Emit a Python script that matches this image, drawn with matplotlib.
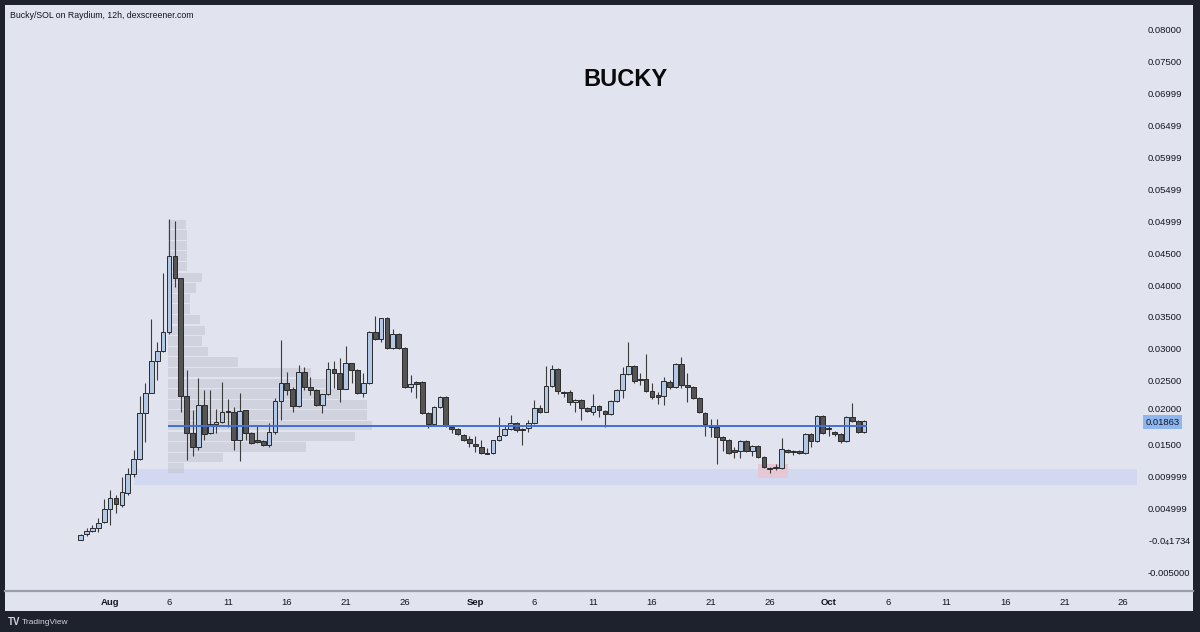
import pandas as pd
import matplotlib.pyplot as plt
import matplotlib.dates as mdates
import matplotlib.transforms as mtransforms
from matplotlib.patches import Rectangle
from matplotlib.lines import Line2D

# Candle data (12h candles, Bucky/SOL)
start_time = '2024-07-29 12:00'
opens = [0.00010, 0.00097, 0.00144, 0.00191, 0.00285, 0.00489, 0.00661, 0.00552, 0.00740, 0.01037,
         0.01273, 0.01994, 0.02308, 0.02810, 0.02966, 0.03264, 0.04456, 0.04111, 0.02261, 0.01681,
         0.01461, 0.02119, 0.01681, 0.01822, 0.01853, 0.02026, 0.02010, 0.01571, 0.02041, 0.01681,
         0.01571, 0.01555, 0.01492, 0.01696, 0.02182, 0.02465, 0.02371, 0.02104, 0.02637, 0.02402,
         0.02355, 0.02119, 0.02292, 0.02684, 0.02621, 0.02371, 0.02778, 0.02668, 0.02308, 0.02465,
         0.03264, 0.03154, 0.03484, 0.03013, 0.03233, 0.03013, 0.02402, 0.02480, 0.02480, 0.01994,
         0.01822, 0.02088, 0.02245, 0.01775, 0.01743, 0.01649, 0.01586, 0.01508, 0.01461, 0.01367,
         0.01367, 0.01571, 0.01649, 0.01743, 0.01837, 0.01743, 0.01759, 0.01837, 0.02073, 0.02010,
         0.02418, 0.02684, 0.02324, 0.02324, 0.02167, 0.02198, 0.02073, 0.02010, 0.02104, 0.02026,
         0.01978, 0.02182, 0.02355, 0.02606, 0.02731, 0.02527, 0.02527, 0.02339, 0.02276, 0.02261,
         0.02480, 0.02402, 0.02762, 0.02433, 0.02402, 0.02229, 0.01994, 0.01775, 0.01775, 0.01618,
         0.01571, 0.01414, 0.01398, 0.01555, 0.01398, 0.01477, 0.01304, 0.01132, 0.01132, 0.01132,
         0.01414, 0.01398, 0.01398, 0.01367, 0.01665, 0.01555, 0.01947, 0.01759, 0.01696, 0.01665,
         0.01555, 0.01931, 0.01869, 0.01696]
highs = [0.00090, 0.00191, 0.00238, 0.00348, 0.00646, 0.00787, 0.00708, 0.00991, 0.01132, 0.01414,
         0.02261, 0.02465, 0.03468, 0.03107, 0.04189, 0.05036, 0.05005, 0.04111, 0.02668, 0.02041,
         0.02539, 0.02355, 0.02355, 0.02057, 0.02480, 0.02214, 0.02088, 0.02308, 0.02041, 0.01696,
         0.01790, 0.01571, 0.01837, 0.02229, 0.03139, 0.02637, 0.02402, 0.02747, 0.02715, 0.02559,
         0.02371, 0.02292, 0.02794, 0.02810, 0.02857, 0.03045, 0.02778, 0.02684, 0.02621, 0.03280,
         0.03515, 0.03484, 0.03499, 0.03311, 0.03249, 0.03029, 0.02590, 0.02496, 0.02496, 0.02010,
         0.02104, 0.02261, 0.02261, 0.01790, 0.01759, 0.01665, 0.01634, 0.01634, 0.01571, 0.01445,
         0.01571, 0.01931, 0.01806, 0.01963, 0.01853, 0.01759, 0.01884, 0.02198, 0.02119, 0.02731,
         0.02747, 0.02700, 0.02339, 0.02355, 0.02214, 0.02214, 0.02088, 0.02292, 0.02119, 0.02041,
         0.02198, 0.02371, 0.02715, 0.03107, 0.02747, 0.02621, 0.02919, 0.02465, 0.02324, 0.02559,
         0.02512, 0.02778, 0.02872, 0.02621, 0.02418, 0.02245, 0.02010, 0.01900, 0.01900, 0.01634,
         0.01586, 0.01461, 0.01571, 0.01571, 0.01492, 0.01492, 0.01320, 0.01147, 0.01195, 0.01602,
         0.01430, 0.01414, 0.01414, 0.01681, 0.01681, 0.01963, 0.01963, 0.01806, 0.01712, 0.01681,
         0.01947, 0.02151, 0.01884, 0.01884]
lows = [0.00003, 0.00066, 0.00128, 0.00128, 0.00270, 0.00238, 0.00426, 0.00520, 0.00708, 0.00991,
        0.01257, 0.01539, 0.02308, 0.02512, 0.02951, 0.03233, 0.03970, 0.02010, 0.01257, 0.01320,
        0.01414, 0.01571, 0.01665, 0.01681, 0.01837, 0.01775, 0.01414, 0.01242, 0.01571, 0.01508,
        0.01524, 0.01477, 0.01461, 0.01665, 0.01884, 0.02276, 0.02010, 0.02088, 0.02355, 0.02276,
        0.02104, 0.01994, 0.02276, 0.02386, 0.02167, 0.02371, 0.02465, 0.02292, 0.02245, 0.02449,
        0.03139, 0.03107, 0.02998, 0.02998, 0.02998, 0.02386, 0.02324, 0.02229, 0.01978, 0.01759,
        0.01806, 0.02073, 0.01775, 0.01681, 0.01649, 0.01555, 0.01461, 0.01383, 0.01351, 0.01351,
        0.01351, 0.01555, 0.01634, 0.01728, 0.01696, 0.01492, 0.01696, 0.01822, 0.01994, 0.02010,
        0.02402, 0.02292, 0.02245, 0.02119, 0.02010, 0.01884, 0.02010, 0.01963, 0.01931, 0.01775,
        0.01963, 0.02167, 0.02229, 0.02590, 0.02465, 0.02433, 0.02324, 0.02214, 0.02135, 0.02119,
        0.02371, 0.02386, 0.02386, 0.02167, 0.02214, 0.01994, 0.01634, 0.01618, 0.01195, 0.01398,
        0.01351, 0.01289, 0.01289, 0.01383, 0.01320, 0.01289, 0.01132, 0.01053, 0.01100, 0.01116,
        0.01367, 0.01336, 0.01351, 0.01351, 0.01461, 0.01539, 0.01665, 0.01634, 0.01634, 0.01524,
        0.01539, 0.01853, 0.01681, 0.01681]
closes = [0.00081, 0.00144, 0.00191, 0.00270, 0.00489, 0.00661, 0.00567, 0.00756, 0.01037, 0.01273,
          0.01994, 0.02308, 0.02810, 0.02966, 0.03264, 0.04456, 0.04111, 0.02261, 0.01681, 0.01461,
          0.02119, 0.01665, 0.01822, 0.01853, 0.02010, 0.02010, 0.01571, 0.02026, 0.01681, 0.01524,
          0.01539, 0.01492, 0.01696, 0.02182, 0.02465, 0.02355, 0.02104, 0.02637, 0.02402, 0.02355,
          0.02119, 0.02292, 0.02684, 0.02621, 0.02371, 0.02778, 0.02668, 0.02308, 0.02465, 0.03264,
          0.03154, 0.03484, 0.03013, 0.03233, 0.03013, 0.02402, 0.02449, 0.02449, 0.01994, 0.01822,
          0.02088, 0.02245, 0.01790, 0.01743, 0.01665, 0.01571, 0.01524, 0.01477, 0.01367, 0.01351,
          0.01571, 0.01634, 0.01743, 0.01837, 0.01728, 0.01728, 0.01837, 0.02073, 0.02010, 0.02418,
          0.02684, 0.02339, 0.02308, 0.02167, 0.02198, 0.02073, 0.02026, 0.02104, 0.02041, 0.01978,
          0.02182, 0.02355, 0.02606, 0.02731, 0.02496, 0.02512, 0.02339, 0.02245, 0.02245, 0.02496,
          0.02402, 0.02762, 0.02433, 0.02402, 0.02229, 0.02010, 0.01822, 0.01806, 0.01618, 0.01571,
          0.01367, 0.01383, 0.01555, 0.01398, 0.01477, 0.01304, 0.01147, 0.01116, 0.01147, 0.01430,
          0.01383, 0.01383, 0.01367, 0.01665, 0.01555, 0.01947, 0.01681, 0.01743, 0.01665, 0.01555,
          0.01931, 0.01869, 0.01696, 0.01869]

# Volume profile rows (bottom price of each row, relative volume)
vp_bottoms = [0.01047, 0.01213, 0.01380, 0.01546, 0.01712, 0.01878, 0.02044, 0.02211,
              0.02377, 0.02543, 0.02709, 0.02875, 0.03042, 0.03208, 0.03374, 0.03540,
              0.03707, 0.03873, 0.04039, 0.04205, 0.04371, 0.04537, 0.04704, 0.04870]
vp_volume = [16, 55, 138, 187, 204, 199, 199, 171, 160, 143, 70, 40,
             34, 37, 32, 22, 22, 28, 34, 19, 19, 19, 19, 18]
vp_start = '2024-08-05 22:00'

# Levels and zones
level_price = 0.0179
level_start, level_end = '2024-08-05 22:00', '2024-10-04 05:00'
zone_low, zone_high = 0.00865, 0.01116
zone_start = '2024-08-03 01:00'
box_low, box_high = 0.00975, 0.01190
box_start, box_end = '2024-09-25 00:00', '2024-09-27 12:00'
last_price = 0.01863

y_ticks = [0.08, 0.075, 0.07, 0.065, 0.06, 0.055, 0.05, 0.045, 0.04, 0.035, 0.03,
           0.025, 0.02, 0.015, 0.01, 0.005, 0.0, -0.005]
y_labels = ['0.08000', '0.07500', '0.06999', '0.06499', '0.05999', '0.05499', '0.04999',
            '0.04500', '0.04000', '0.03500', '0.03000', '0.02500', '0.02000', '0.01500',
            '0.009999', '0.004999', r'-0.0$_{4}$1734', '-0.005000']
x_tick_dates = ['2024-08-01', '2024-08-06', '2024-08-11', '2024-08-16', '2024-08-21', '2024-08-26',
                '2024-09-01', '2024-09-06', '2024-09-11', '2024-09-16', '2024-09-21', '2024-09-26',
                '2024-10-01', '2024-10-06', '2024-10-11', '2024-10-16', '2024-10-21', '2024-10-26']
x_tick_labels = ['Aug', '6', '11', '16', '21', '26', 'Sep', '6', '11', '16', '21', '26',
                 'Oct', '6', '11', '16', '21', '26']

BG = '#e1e3ee'
DARK = '#1e222d'
plt.rcParams['font.family'] = ['Liberation Sans', 'DejaVu Sans']

times = mdates.date2num(pd.date_range(start_time, periods=len(opens), freq='12h'))
d = lambda s: mdates.date2num(pd.Timestamp(s))

fig = plt.figure(figsize=(12, 6.32), dpi=100, facecolor=DARK)
fig.patches.append(Rectangle((5 / 1200, 1 - 611 / 632), 1188 / 1200, 606 / 632,
                             transform=fig.transFigure, facecolor=BG, edgecolor='none', zorder=-5))
# time axis separator across the full width
fig.lines.append(Line2D([5 / 1200, 1193 / 1200], [1 - 591 / 632, 1 - 591 / 632],
                        transform=fig.transFigure, color='#9a9dab', lw=1.6, zorder=10))

ax = fig.add_axes([8 / 1200, 1 - 591 / 632, 1129 / 1200, 584 / 632])
ax.set_facecolor(BG)
ax.set_xlim(d('2024-07-23 08:00'), d('2024-10-27 04:00'))
ax.set_ylim(-0.00797, 0.0836)

# zone and highlight box
ax.add_patch(Rectangle((d(zone_start), zone_low), ax.get_xlim()[1] - d(zone_start), zone_high - zone_low,
                       facecolor='#d1d8f0', edgecolor='none', zorder=1))
ax.add_patch(Rectangle((d(box_start), box_low), d(box_end) - d(box_start), box_high - box_low,
                       facecolor='#e6c8d5', edgecolor='none', zorder=1.5))

# volume profile
row_h = vp_bottoms[1] - vp_bottoms[0]
ax.barh([b + row_h / 2 for b in vp_bottoms], [v / 11.78 for v in vp_volume], height=row_h * 0.9,
        left=d(vp_start), color='#b8bac6', alpha=0.4, zorder=2)

# candles
up = [c >= o for o, c in zip(opens, closes)]
ax.vlines(times, lows, highs, color='#3c3c3c', lw=0.8, zorder=3)
ax.bar(times, [max(abs(c - o), 0.00006) for o, c in zip(opens, closes)],
       bottom=[min(o, c) for o, c in zip(opens, closes)], width=0.40,
       color=['#b3c7e6' if u else '#555555' for u in up], edgecolor='#2a2a2a', lw=0.7, zorder=4)

# horizontal level
ax.hlines(level_price, d(level_start), d(level_end), color='#3f6fd9', lw=1.4, zorder=5)

# axes styling
for s in ['top', 'left', 'right', 'bottom']:
    ax.spines[s].set_visible(False)
ax.set_yticks([])
trans = mtransforms.blended_transform_factory(ax.transAxes, ax.transData)
for tick, lbl in zip(y_ticks, y_labels):
    off = mtransforms.ScaledTranslation(0, 3 / 72 if tick == 0.02 else 0, fig.dpi_scale_trans)
    ax.text(1.0095, tick, lbl, transform=trans + off, fontsize=6.8, color='#131722',
            va='center_baseline')
ax.set_xticks([d(t) for t in x_tick_dates])
ax.set_xticklabels(x_tick_labels)
ax.tick_params(axis='x', length=0, pad=5, labelsize=6.8, labelcolor='#131722')
for lbl, txt in zip(ax.get_xticklabels(), x_tick_labels):
    if txt in ('Aug', 'Sep', 'Oct'):
        lbl.set_fontweight('bold')

# last price label
ax.text(1.0075, last_price, '0.01863', transform=trans, fontsize=6.8, color='#131722',
        va='center_baseline',
        bbox=dict(boxstyle='square,pad=0.25', facecolor='#8fb5ee', edgecolor='none'), zorder=6)

# texts
fig.text(10 / 1200, 1 - 16 / 632, 'Bucky/SOL on Raydium, 12h, dexscreener.com', fontsize=6.3,
         color='#131722', va='center')
fig.text(626 / 1200, 1 - 80 / 632, 'BUCKY', fontsize=17, fontweight='bold', color='#0a0a0a',
         ha='center', va='center')
fig.text(8 / 1200, 1 - 622 / 632, 'TV', fontsize=7, fontweight='bold', color='#d1d4dc', va='center')
fig.text(22 / 1200, 1 - 622 / 632, 'TradingView', fontsize=6, color='#d1d4dc', va='center')

fig.savefig('out.png', dpi=100, facecolor=DARK)
